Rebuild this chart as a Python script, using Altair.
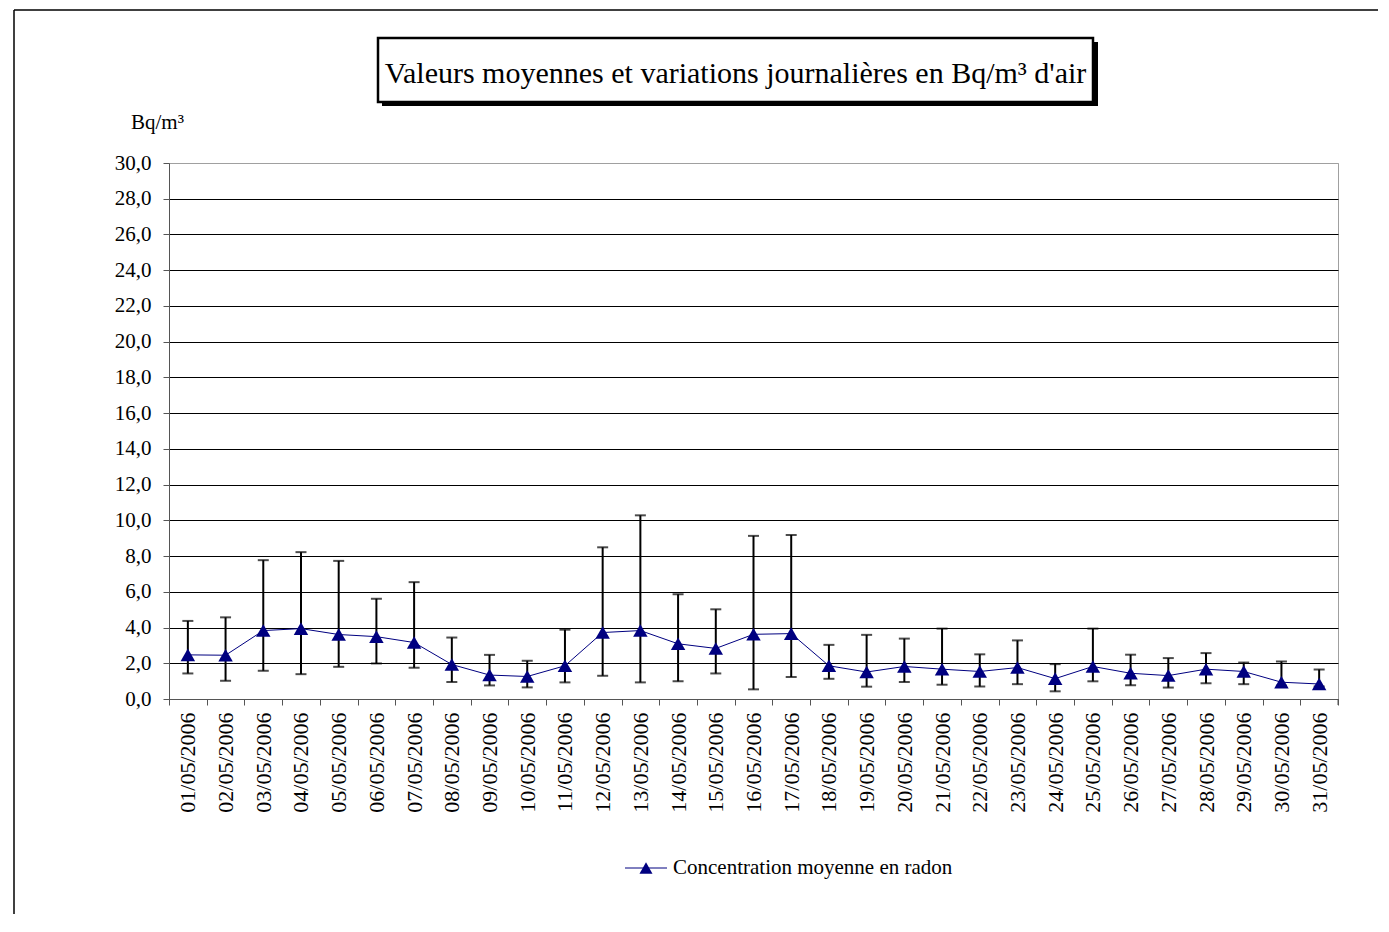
import altair as alt
import pandas as pd

dates = [f"{d:02d}/05/2006" for d in range(1, 32)]
means = [2.47, 2.45, 3.83, 3.94, 3.61, 3.49, 3.16, 1.93, 1.34, 1.26, 1.86, 3.72, 3.83, 3.09, 2.83,
         3.62, 3.66, 1.86, 1.51, 1.82, 1.67, 1.54, 1.76, 1.14, 1.82, 1.44, 1.31, 1.67, 1.54, 0.94, 0.84]
uppers = [4.37, 4.57, 7.77, 8.22, 7.73, 5.61, 6.54, 3.44, 2.47, 2.14, 3.88, 8.49, 10.28, 5.86, 5.02,
          9.13, 9.18, 3.03, 3.59, 3.38, 3.94, 2.50, 3.28, 1.95, 3.94, 2.48, 2.29, 2.57, 2.04, 2.10, 1.65]
lowers = [1.43, 1.02, 1.58, 1.39, 1.80, 1.99, 1.75, 0.95, 0.76, 0.65, 0.93, 1.30, 0.93, 0.99, 1.43,
          0.54, 1.23, 1.13, 0.69, 0.95, 0.80, 0.70, 0.83, 0.43, 0.99, 0.77, 0.64, 0.88, 0.83, 0.75, 0.70]
y_ticks = list(range(0, 31, 2))

title_text = "Valeurs moyennes et variations journalières en Bq/m³ d'air"
unit_text = "Bq/m³"
legend_text = "Concentration moyenne en radon"

df = pd.DataFrame({"date": dates, "mean": means, "upper": uppers, "lower": lowers})
one = pd.DataFrame({"k": [0]})

W, H = 1169, 536
NAVY = "#000080"
FONT = "Liberation Serif"

x_axis = alt.Axis(title=None, labelAngle=270, tickBand="extent", tickSize=6, labelPadding=7,
                  labelFontSize=22, labelColor="black", labelFont=FONT,
                  domainColor="#555555", tickColor="#555555", labelOverlap=False)
x_enc = alt.X("date:N", sort=dates, scale=alt.Scale(paddingInner=0, paddingOuter=0), axis=x_axis)
y_scale = alt.Scale(domain=[0, 30], nice=False)
y_axis = alt.Axis(
    title=None, values=y_ticks, tickSize=6, labelPadding=12, labelFontSize=21,
    labelColor="black", labelFont=FONT, labelOverlap=False,
    labelExpr="replace(format(datum.value, '.1f'), '.', ',')",
    grid=True,
    gridColor={"condition": {"test": "datum.value == 30", "value": "#a0a0a0"}, "value": "black"},
    gridWidth=1, domainColor="#555555", tickColor="#555555",
)


def Y(field):
    return alt.Y(field, scale=y_scale, axis=y_axis)


base = alt.Chart(df)

err = base.mark_rule(color="black", strokeWidth=2).encode(x=x_enc, y=Y("lower:Q"), y2="upper:Q")
cap_hi = base.mark_tick(color="black", thickness=2, size=11).encode(x=x_enc, y=Y("upper:Q"))
cap_lo = base.mark_tick(color="black", thickness=2, size=11).encode(x=x_enc, y=Y("lower:Q"))
line = base.mark_line(color=NAVY, strokeWidth=1).encode(x=x_enc, y=Y("mean:Q"))
pts = base.mark_point(shape="triangle-up", filled=True, color=NAVY, opacity=1, size=210).encode(
    x=x_enc, y=Y("mean:Q"))

deco = alt.Chart(one)
border_left = deco.mark_rule(color="black", strokeWidth=1.5).encode(
    x=alt.value(-155), y=alt.value(-153), y2=alt.value(760))
border_top = deco.mark_rule(color="black", strokeWidth=1.5).encode(
    x=alt.value(-155), x2=alt.value(W + 40), y=alt.value(-153))
end_tick = deco.mark_rule(color="#555555").encode(
    x=alt.value(W), y=alt.value(H), y2=alt.value(H + 6))

shadow = deco.mark_rect(color="black").encode(
    x=alt.value(213), x2=alt.value(929), y=alt.value(-121), y2=alt.value(-57))
box = deco.mark_rect(fill="white", stroke="black", strokeWidth=2.5).encode(
    x=alt.value(209), x2=alt.value(924), y=alt.value(-125), y2=alt.value(-61))
title = deco.mark_text(font=FONT, fontSize=30, align="center", baseline="alphabetic", color="black").encode(
    x=alt.value(566.5), y=alt.value(-80), text=alt.value(title_text))
unit = deco.mark_text(font=FONT, fontSize=21, align="left", baseline="alphabetic", color="black").encode(
    x=alt.value(-38), y=alt.value(-34), text=alt.value(unit_text))

leg_line = deco.mark_rule(color=NAVY, strokeWidth=1).encode(
    x=alt.value(456), x2=alt.value(498), y=alt.value(705))
leg_pt = deco.mark_point(shape="triangle-up", filled=True, color=NAVY, opacity=1, size=170).encode(
    x=alt.value(477), y=alt.value(705))
leg_txt = deco.mark_text(font=FONT, fontSize=21, align="left", baseline="middle", color="black").encode(
    x=alt.value(504), y=alt.value(705), text=alt.value(legend_text))

chart = alt.layer(
    err, cap_hi, cap_lo, line, pts,
    border_left, border_top, end_tick, shadow, box, title, unit, leg_line, leg_pt, leg_txt,
).properties(
    width=W, height=H,
    padding={"left": 161, "top": 155, "right": 40, "bottom": 215},
    autosize=alt.AutoSizeParams(type="none"),
).configure(font=FONT).configure_view(stroke="#a0a0a0")

chart.save("out.html", embed_options={"renderer": "svg", "actions": False})
